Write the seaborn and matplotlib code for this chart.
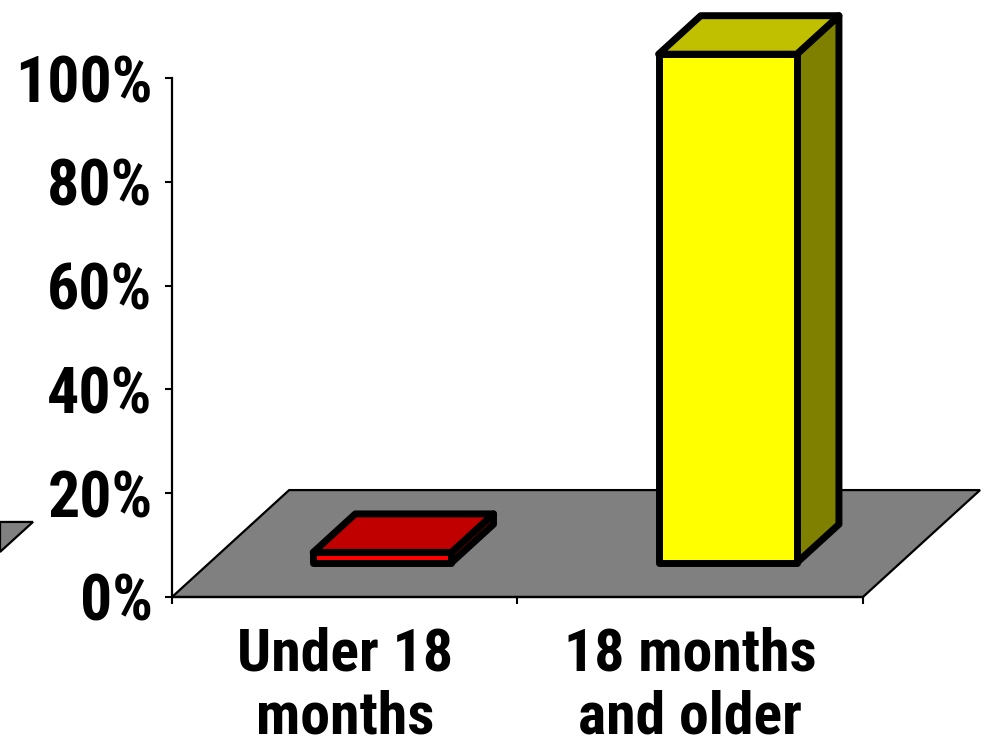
import matplotlib
matplotlib.use("Agg")
import matplotlib.pyplot as plt
import matplotlib.transforms as mtransforms
from matplotlib.patches import Polygon
import seaborn as sns

# Data
categories = ["Under 18\nmonths", "18 months\nand older"]
values = [2.0, 98.0]
front_colors = ["#FF0000", "#FFFF00"]
top_colors = ["#C00000", "#C0C000"]
side_colors = ["#800000", "#808000"]
y_ticks = [0, 20, 40, 60, 80, 100]
y_tick_labels = ["0%", "20%", "40%", "60%", "80%", "100%"]

sns.set_style("white")
plt.rcParams["font.family"] = ["Roboto Condensed", "DejaVu Sans"]
plt.rcParams["font.weight"] = "bold"
plt.rcParams["text.color"] = "black"
plt.rcParams["xtick.color"] = "black"
plt.rcParams["ytick.color"] = "black"

fig = plt.figure(figsize=(9.88, 7.45), dpi=100)
ax = fig.add_axes([0, 0, 1, 1])

# Oblique projection: floor depth vector in data units, bar depth band
DX, DY = 0.339, 20.6
F0, F1 = 0.32, 0.68
BAR_W = 0.4
EDGE = 5.0

sns.barplot(x=categories, y=values, hue=categories, palette=front_colors,
            saturation=1, width=BAR_W, edgecolor="black", linewidth=EDGE,
            legend=False, ax=ax, zorder=5)
bars = list(ax.patches)
shift = mtransforms.Affine2D().translate(F0 * DX, F0 * DY) + ax.transData
for b in bars:
    b.set_transform(shift)
    b.set_joinstyle("round")
    b.set_clip_on(False)

# Floor
n = len(categories)
x0, x1 = -0.5, n - 0.5
floor = Polygon([(x0, 0), (x1, 0), (x1 + DX, DY), (x0 + DX, DY)],
                closed=True, facecolor="#808080", edgecolor="black",
                linewidth=1.6, zorder=1, joinstyle="miter")
ax.add_patch(floor)

# Top and side faces of each bar
for i, v in enumerate(values):
    xl, xr = i - BAR_W / 2, i + BAR_W / 2
    ax0, ay0 = F0 * DX, F0 * DY
    ax1, ay1 = F1 * DX, F1 * DY
    side = Polygon([(xr + ax0, v + ay0), (xr + ax1, v + ay1),
                    (xr + ax1, ay1), (xr + ax0, ay0)], closed=True,
                   facecolor=side_colors[i], edgecolor="black",
                   linewidth=EDGE, joinstyle="round", zorder=3, clip_on=False)
    top = Polygon([(xl + ax0, v + ay0), (xr + ax0, v + ay0),
                   (xr + ax1, v + ay1), (xl + ax1, v + ay1)], closed=True,
                  facecolor=top_colors[i], edgecolor="black",
                  linewidth=EDGE, joinstyle="round", zorder=4, clip_on=False)
    ax.add_patch(side)
    ax.add_patch(top)

# Clipped corner of a neighbouring floor at the left edge
stub = Polygon([(0.0, 0.2994), (0.0334, 0.2994), (0.0, 0.2591)], closed=True,
               facecolor="#808080", edgecolor="black", linewidth=1.6,
               transform=ax.transAxes, clip_on=False, zorder=1)
ax.add_patch(stub)

# Axis limits so the plot area sits where the frame expects it
ax.set_xlim(-0.998, 1.862)
ax.set_ylim(-28.52, 115.03)

for s in ["top", "right"]:
    ax.spines[s].set_visible(False)
ax.spines["left"].set_position(("data", x0))
ax.spines["left"].set_bounds(0, 100)
ax.spines["bottom"].set_position(("data", 0))
ax.spines["bottom"].set_bounds(x0, x1)
for s in ["left", "bottom"]:
    ax.spines[s].set_linewidth(1.6)
    ax.spines[s].set_color("black")
    ax.spines[s].set_zorder(2)

ax.set_yticks(y_ticks)
ax.set_yticklabels(y_tick_labels)
ax.tick_params(axis="y", left=True, direction="out", length=5, width=1.5,
               color="black", labelcolor="black", pad=9, labelsize=46)
for t in ax.get_yticklabels():
    t.set_fontweight("bold")

ax.set_xticks(range(n))
ax.set_xticklabels(categories, linespacing=1.17)
ax.set_xticks([x0 + k for k in range(n + 1)], minor=True)
ax.tick_params(axis="x", which="major", bottom=True, length=0, pad=21,
               labelsize=43, labelcolor="black")
ax.tick_params(axis="x", which="minor", bottom=True, direction="out",
               length=5, width=1.5, color="black")
for t in ax.get_xticklabels():
    t.set_fontweight("bold")

ax.set_xlabel("")
ax.set_ylabel("")
ax.patch.set_alpha(0)

fig.savefig("out.png", dpi=100)
